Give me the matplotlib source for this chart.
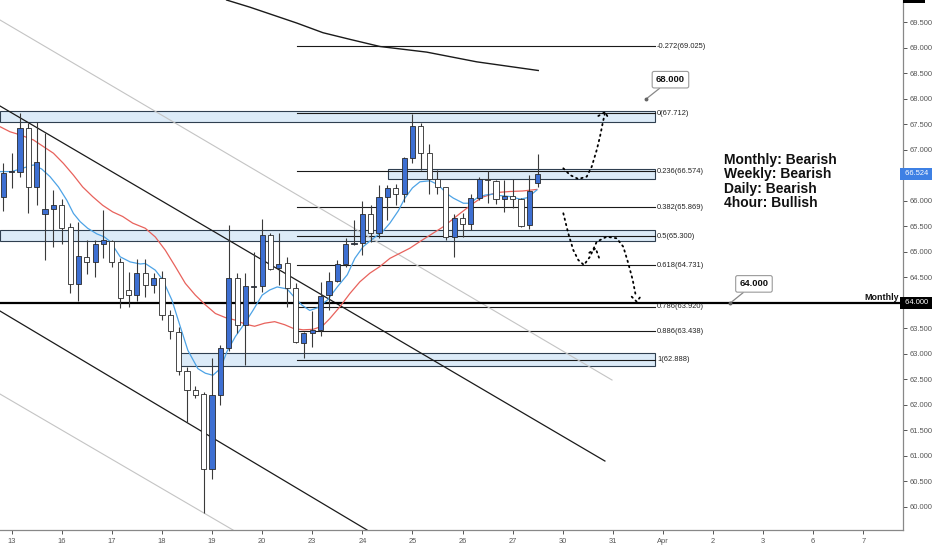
import matplotlib
matplotlib.use('Agg')
import matplotlib.pyplot as plt
from matplotlib.patches import Rectangle
from matplotlib import font_manager as fm
from matplotlib.transforms import blended_transform_factory

# ---------------- data ----------------
# 4-hour candles, index 0 = first bar of the 13th
candle_idx = list(range(-1, 64))
opens = [66.07, 66.56, 66.57, 67.42, 66.27, 65.74, 65.84, 65.92, 65.48, 64.37,
         64.90, 64.80, 65.16, 65.21, 64.79, 64.26, 64.15, 64.58, 64.34, 64.49,
         63.76, 63.43, 62.67, 62.30, 62.21, 60.74, 62.19, 63.11, 64.48, 63.56,
         64.31, 64.32, 65.33, 64.68, 64.77, 64.28, 63.22, 63.41, 63.47, 64.15,
         64.43, 64.76, 65.15, 65.17, 65.73, 65.36, 66.07, 66.24, 66.13, 66.83,
         67.47, 66.93, 66.42, 66.26, 65.28, 65.67, 65.54, 66.06, 66.42, 66.39,
         66.03, 66.10, 66.03, 65.52, 66.35]
highs = [66.74, 66.94, 67.71, 67.52, 67.55, 67.32, 66.21, 66.03, 65.56, 65.59,
         65.23, 65.23, 65.82, 65.23, 64.87, 64.61, 64.85, 64.85, 64.58, 64.63,
         63.86, 63.53, 62.75, 62.36, 62.26, 62.91, 63.17, 65.52, 64.58, 64.58,
         65.00, 65.65, 65.36, 65.36, 64.90, 64.38, 63.43, 63.83, 64.41, 64.61,
         64.84, 65.26, 65.62, 66.00, 65.92, 66.31, 66.31, 66.33, 66.86, 67.70,
         67.53, 67.12, 66.60, 66.27, 65.74, 65.75, 66.14, 66.47, 66.58, 66.41,
         66.41, 66.42, 66.05, 66.50, 66.91]
lows = [65.80, 66.24, 66.47, 65.75, 65.92, 64.84, 65.10, 65.16, 64.19, 64.04,
        64.56, 64.51, 64.87, 64.71, 63.89, 63.92, 64.04, 64.12, 64.20, 63.66,
        63.30, 62.59, 61.67, 62.13, 59.88, 60.54, 62.00, 63.05, 63.40, 62.78,
        64.02, 64.22, 64.64, 64.35, 63.92, 63.21, 62.91, 63.14, 63.34, 63.86,
        64.41, 64.71, 65.13, 64.94, 65.20, 65.26, 65.63, 65.92, 65.98, 66.73,
        66.60, 66.14, 66.14, 65.23, 64.90, 65.28, 65.43, 66.01, 65.95, 65.94,
        65.78, 65.85, 65.49, 65.45, 66.27]
closes = [66.55, 66.57, 67.42, 66.27, 66.76, 65.84, 65.92, 65.47, 64.37, 64.92,
          64.80, 65.16, 65.23, 64.79, 64.09, 64.15, 64.58, 64.34, 64.49, 63.76,
          63.45, 62.67, 62.30, 62.19, 60.74, 62.19, 63.11, 64.48, 63.56, 64.32,
          64.32, 65.33, 64.66, 64.76, 64.28, 63.24, 63.41, 63.47, 64.13, 64.43,
          64.76, 65.15, 65.17, 65.73, 65.36, 66.07, 66.24, 66.13, 66.83, 67.47,
          66.93, 66.42, 66.26, 65.28, 65.67, 65.54, 66.06, 66.42, 66.40, 66.03,
          66.10, 66.03, 65.51, 66.18, 66.52]

# fast moving average (blue), traced
fast_x = [-1.4, 0.0, 1.0, 2.6, 3.6, 4.6, 5.6, 6.6, 7.4, 8.2, 9.1, 10.2, 11.1, 11.8,
          13.0, 14.2, 15.4, 16.0, 17.2, 18.1, 19.2, 20.2, 21.1, 22.3, 23.2, 24.1,
          25.0, 25.8, 26.8, 28.0, 28.9, 30.0, 30.9, 31.8, 33.0, 33.9, 34.8, 35.7,
          36.6, 37.8, 39.0, 40.2, 41.1, 42.1, 43.3, 44.4, 45.3, 46.3, 47.1, 48.0,
          48.9, 50.1, 51.1, 52.1, 52.9, 54.1, 54.9, 55.7, 56.7, 57.7, 58.5, 59.7,
          60.9, 61.8, 62.9]
fast_y = [66.57, 66.57, 66.62, 66.70, 66.62, 66.47, 66.27, 66.01, 65.75, 65.59,
          65.46, 65.35, 65.29, 65.20, 64.90, 64.80, 64.76, 64.77, 64.64, 64.45,
          64.05, 63.53, 63.07, 62.71, 62.62, 62.58, 62.71, 63.05, 63.34, 63.62,
          63.85, 64.15, 64.25, 64.31, 64.27, 64.10, 63.95, 63.85, 63.90, 64.05,
          64.31, 64.55, 64.87, 65.10, 65.26, 65.39, 65.56, 65.80, 66.05, 66.25,
          66.37, 66.39, 66.31, 66.14, 66.05, 65.95, 65.95, 66.05, 66.11, 66.13,
          66.10, 66.08, 66.03, 66.06, 66.21]

# slow moving average (red), traced
slow_x = [-1.4, -0.2, 1.0, 2.6, 3.8, 5.0, 6.2, 7.4, 8.5, 9.7, 10.9, 12.1, 13.3,
          14.5, 15.4, 16.0, 17.2, 18.4, 19.6, 20.8, 22.0, 23.2, 24.4, 25.6, 26.8,
          28.0, 29.1, 30.3, 31.5, 32.7, 33.7, 34.9, 36.1, 37.2, 38.1, 39.3, 40.5,
          41.7, 42.9, 44.1, 45.3, 46.5, 47.7, 48.9, 51.7, 53.7, 55.3, 56.4, 58.1,
          59.7, 61.2, 62.9]
slow_y = [67.45, 67.35, 67.29, 67.19, 67.06, 66.93, 66.73, 66.50, 66.27, 66.08,
          65.91, 65.78, 65.69, 65.56, 65.50, 65.46, 65.29, 65.03, 64.71, 64.38,
          64.15, 63.96, 63.79, 63.71, 63.66, 63.58, 63.54, 63.60, 63.63, 63.57,
          63.50, 63.47, 63.48, 63.54, 63.69, 63.92, 64.18, 64.41, 64.58, 64.71,
          64.87, 64.97, 65.07, 65.20, 65.49, 65.75, 65.95, 66.07, 66.16, 66.18,
          66.19, 66.22]

# long moving average (black), traced
long_x = [25.75, 28.54, 34.14, 37.29, 40.52, 44.11, 49.71, 55.69, 63.07]
long_y = [69.93, 69.79, 69.48, 69.29, 69.16, 69.02, 68.91, 68.72, 68.55]

# trend lines: (x0, y0, x1, y1)
channel_black = [(-1.4, 67.855, 71.05, 60.90), (-1.4, 63.839, 42.56, 59.549)]
channel_grey = [(-1.4, 69.54, 71.9, 62.487), (-1.4, 62.213, 26.51, 59.549)]

# fibonacci retracement
fib_ratios = ['-0.272', '0', '0.236', '0.382', '0.5', '0.618', '0.786', '0.886', '1']
fib_prices = [69.025, 67.712, 66.574, 65.869, 65.300, 64.731, 63.920, 63.438, 62.888]
fib_start, fib_end = 34.2, 77.05

# supply/demand zones: (x0, x1, low, high)
zones = [(-1.4, 77.05, 67.54, 67.76), (45.07, 77.05, 66.42, 66.615),
         (-1.4, 77.05, 65.216, 65.416), (20.16, 77.05, 62.767, 63.01)]

monthly_level = 64.000
last_price = 66.524

# projection paths
proj_up_x = [66.07, 66.87, 67.86, 68.87, 69.47, 70.07, 70.46, 70.78, 71.06]
proj_up_y = [66.634, 66.503, 66.425, 66.47, 66.666, 66.993, 67.253, 67.516, 67.723]
proj_up_head_x = [70.26, 71.06, 71.57]
proj_up_head_y = [67.659, 67.735, 67.592]
proj_dn_x = [66.07, 66.66, 67.26, 67.86, 68.54, 69.26, 70.07, 71.26, 72.46, 73.25,
             73.85, 74.38, 74.77]
proj_dn_y = [65.753, 65.361, 65.034, 64.838, 64.74, 64.902, 65.196, 65.294, 65.263,
             65.098, 64.773, 64.446, 64.119]
proj_dn_mid_x = [69.18, 69.66, 69.94, 70.37]
proj_dn_mid_y = [64.98, 65.034, 65.067, 64.871]
proj_dn_head_x = [74.26, 74.86, 75.46]
proj_dn_head_y = [64.119, 64.021, 64.152]

# call-outs: (text, tip_x, tip_y, box_x, box_y)
callouts = [('68.000', 75.97, 67.99, 78.9, 68.37), ('64.000', 86.03, 63.99, 88.9, 64.37)]

bias_lines = ['Monthly: Bearish', 'Weekly: Bearish', 'Daily: Bearish', '4hour: Bullish']
bias_y = [66.797, 66.517, 66.229, 65.949]
bias_x = 85.3

day_pos = [0, 6, 12, 18, 24, 30, 36, 42, 48, 54, 60, 66, 72, 78, 84, 90, 96, 102]
day_labels = ['13', '16', '17', '18', '19', '20', '23', '24', '25', '26', '27',
              '30', '31', 'Apr', '2', '3', '6', '7']
y_ticks = [60.0 + 0.5 * k for k in range(20)]

# ---------------- styling ----------------
names = {f.name for f in fm.fontManager.ttflist}
has_narrow = 'Liberation Sans Narrow' in names
NF = ['Liberation Sans Narrow', 'Liberation Sans', 'DejaVu Sans'] if has_narrow else ['Liberation Sans', 'DejaVu Sans']
small = 6.4 if has_narrow else 5.4
bigsz = 11.8 if has_narrow else 10.0
plt.rcParams['font.family'] = NF

BLUE = '#3d6fd2'
EDGE = '#2a2a2a'
ZONE_F = '#dcebf8'
ZONE_E = '#2f3f50'

fig = plt.figure(figsize=(9.32, 5.5), dpi=100)
fig.patch.set_facecolor('white')
ax = fig.add_axes([0, 20 / 550, 903 / 932, 530 / 550])
ax.set_xlim(-1.395, 106.75)
ax.set_ylim(59.549, 69.931)

for s in ['left', 'top']:
    ax.spines[s].set_visible(False)
for s in ['right', 'bottom']:
    ax.spines[s].set_color('#888888')
    ax.spines[s].set_linewidth(0.9)

# zones
for x0, x1, lo, hi in zones:
    ax.add_patch(Rectangle((x0, lo), x1 - x0, hi - lo, facecolor=ZONE_F,
                           edgecolor=ZONE_E, lw=0.8, zorder=1))

# fib lines + labels
for r, p in zip(fib_ratios, fib_prices):
    ax.plot([fib_start, fib_end], [p, p], color='#1a1a1a', lw=0.8, zorder=1.5)
    ax.text(fib_end + 0.25, p, f'{r}({p:.3f})', fontsize=small, color='#222222',
            ha='left', va='center', zorder=6)

# channel lines
for x0, y0, x1, y1 in channel_black:
    ax.plot([x0, x1], [y0, y1], color='#1a1a1a', lw=0.9, zorder=2)
for x0, y0, x1, y1 in channel_grey:
    ax.plot([x0, x1], [y0, y1], color='#c4c4c4', lw=0.8, zorder=2)

# long MA
ax.plot(long_x, long_y, color='#1a1a1a', lw=1.0, zorder=2)

# monthly level
ax.axhline(monthly_level, color='black', lw=1.6, zorder=2)

# moving averages
ax.plot(slow_x, slow_y, color='#e8625c', lw=0.9, zorder=2.6)
ax.plot(fast_x, fast_y, color='#4da3e6', lw=0.9, zorder=2.7)

# candles
w = 0.62
for x, o, h, l, c in zip(candle_idx, opens, highs, lows, closes):
    up = c >= o
    ax.plot([x, x], [l, h], color='#3a3a3a', lw=0.8, zorder=3, solid_capstyle='butt')
    bot = min(o, c)
    hgt = max(abs(c - o), 0.015)
    ax.add_patch(Rectangle((x - w / 2, bot), w, hgt, facecolor=BLUE if up else 'white',
                           edgecolor=EDGE, lw=0.6, zorder=4))

# projections
dot = dict(color='black', lw=1.3, linestyle=(0, (0.8, 2.2)), zorder=6, dash_capstyle='round')
ax.plot(proj_up_x, proj_up_y, **dot)
ax.plot(proj_up_head_x, proj_up_head_y, **dot)
ax.plot(proj_dn_x, proj_dn_y, **dot)
ax.plot(proj_dn_mid_x, proj_dn_mid_y, **dot)
ax.plot(proj_dn_head_x, proj_dn_head_y, **dot)

# call-outs
for txt, tx, ty, bx, by in callouts:
    ax.annotate(txt, xy=(tx, ty), xytext=(bx, by), fontsize=small + 1.4, fontweight='bold',
                color='#111111', ha='center', va='center', zorder=8,
                bbox=dict(boxstyle='round,pad=0.4,rounding_size=0.2', fc='white',
                          ec='#9a9a9a', lw=0.8),
                arrowprops=dict(arrowstyle='-', color='#888888', lw=0.9,
                                shrinkA=0, shrinkB=0))
    ax.plot([tx], [ty], marker='o', ms=1.8, color='#666666', zorder=8)

# bias text
for t, yv in zip(bias_lines, bias_y):
    ax.text(bias_x, yv, t, fontsize=bigsz, fontweight='bold', color='#111111',
            ha='left', va='center', zorder=8)

# "Monthly" label on the level
ax.text(106.3, monthly_level + 0.02, 'Monthly', fontsize=small + 1.0, fontweight='bold',
        color='#111111', ha='right', va='bottom', zorder=8)

# axes ticks (labels under the price-scale markers are hidden)
hidden = {64.0, 66.5}
ax.yaxis.tick_right()
ax.set_yticks(y_ticks)
ax.set_yticklabels(['' if v in hidden else f'{v:.3f}' for v in y_ticks])
ax.tick_params(axis='y', direction='out', length=3, width=0.7, colors='#555555',
               labelsize=small, pad=1.5)
ax.set_xticks(day_pos)
ax.set_xticklabels(day_labels)
ax.tick_params(axis='x', direction='out', length=3, width=0.7, colors='#555555',
               labelsize=small, pad=3)

# price-scale markers
tr = blended_transform_factory(ax.transAxes, ax.transData)
ax.text(1.0, last_price, f' {last_price:.3f}  ', transform=tr, fontsize=small, color='white',
        ha='left', va='center', clip_on=False, zorder=10,
        bbox=dict(boxstyle='square,pad=0.35', fc='#3e80e4', ec='none'))
ax.text(1.0, monthly_level, f' {monthly_level:.3f}  ', transform=tr, fontsize=small,
        color='white', ha='left', va='center', clip_on=False, zorder=10,
        bbox=dict(boxstyle='square,pad=0.35', fc='black', ec='none'))

fig.patches.append(Rectangle((903 / 932, 547 / 550), 22 / 932, 3 / 550,
                             transform=fig.transFigure, facecolor='black', edgecolor='none'))

fig.savefig('out.png', dpi=100, facecolor='white')
